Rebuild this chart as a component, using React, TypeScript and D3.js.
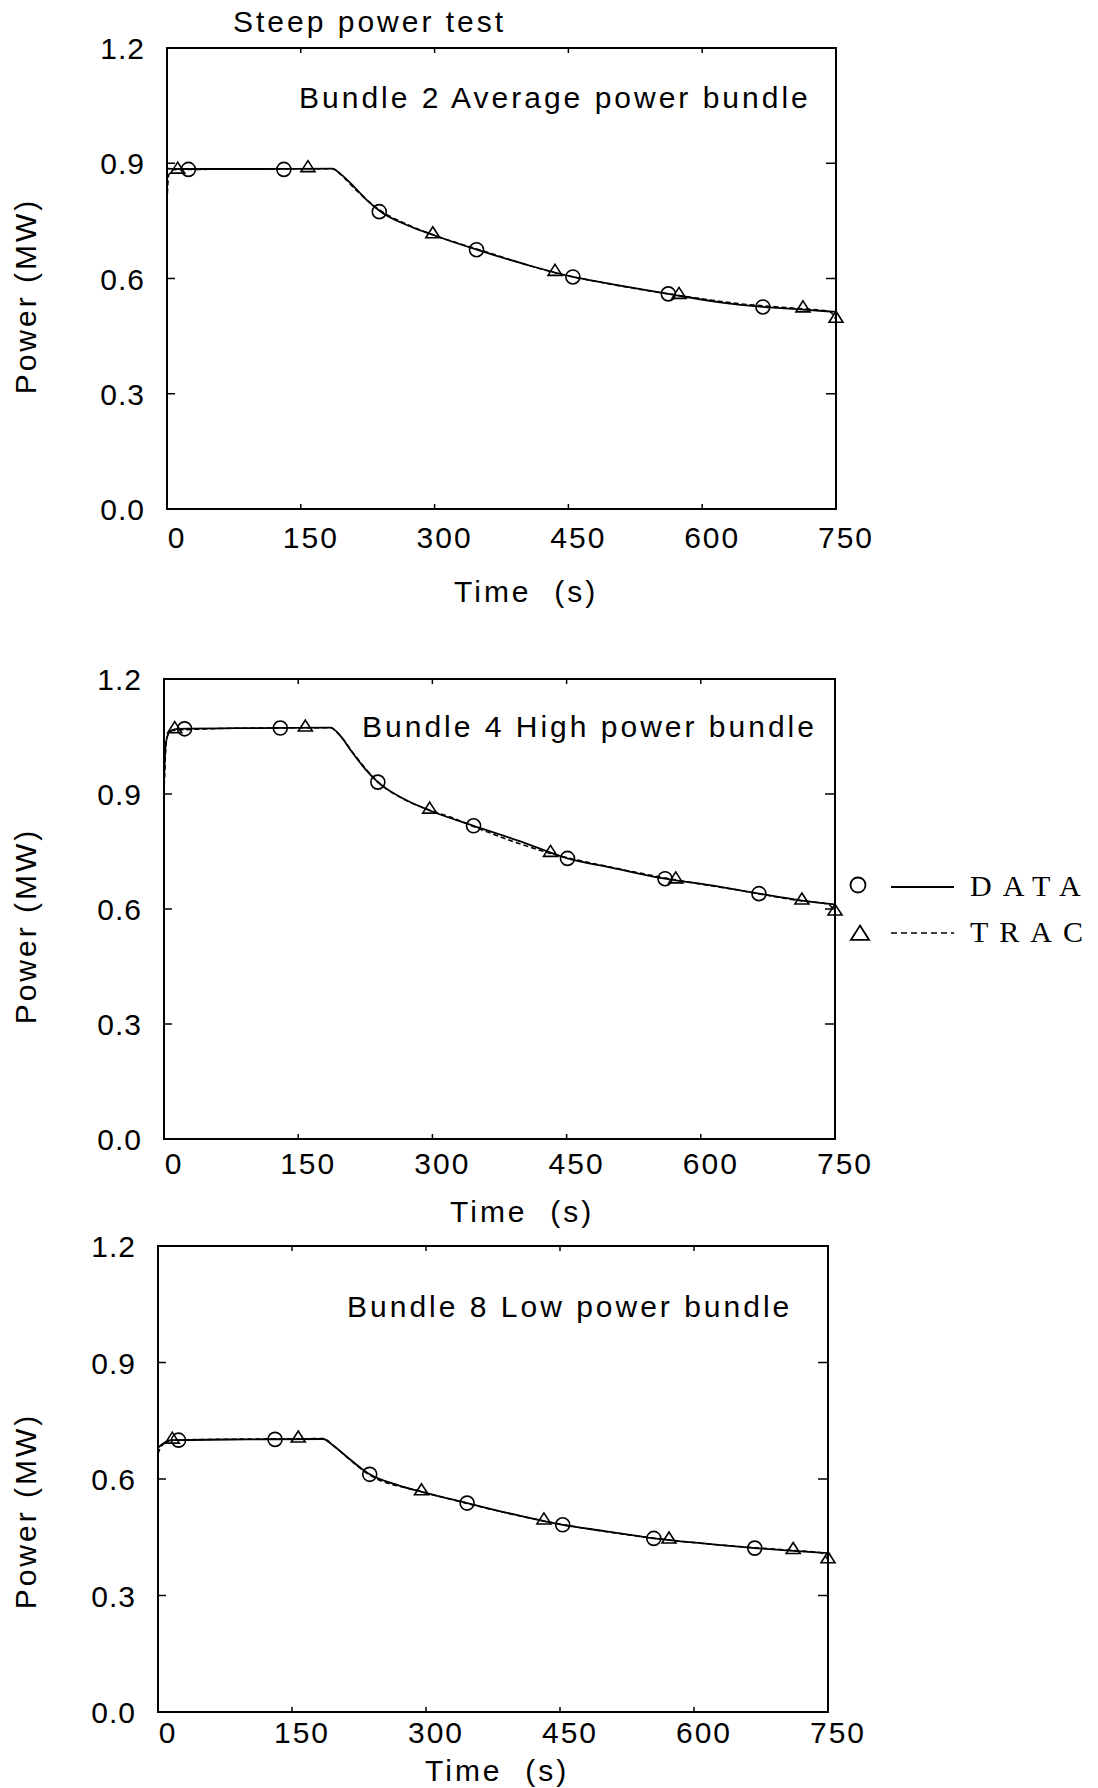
import * as d3 from 'd3'

type Pt = [number, number]

const chartTitle = 'Steep power test'
const bundleTitles = [
  'Bundle 2 Average power bundle',
  'Bundle 4 High power bundle',
  'Bundle 8 Low power bundle',
]
const xTicks = [0, 150, 300, 450, 600, 750]
const yTicks = [0, 0.3, 0.6, 0.9, 1.2]
const legendLabels = ['DATA', 'TRAC']

// bundle 2 (average power)
const b2Data: Pt[] = [
  [0, 0.886], [20, 0.885], [100, 0.885], [185, 0.886], [195, 0.871], [210, 0.838],
  [225, 0.802], [240, 0.773], [270, 0.738], [300, 0.712], [350, 0.673], [400, 0.638],
  [455, 0.604], [500, 0.585], [562, 0.56], [620, 0.538], [668, 0.526], [713, 0.519], [750, 0.513],
]
const b2Trac: Pt[] = [
  [0, 0.8], [2, 0.87], [8, 0.883], [100, 0.885], [186, 0.886], [196, 0.868], [212, 0.83],
  [240, 0.776], [270, 0.74], [298, 0.714], [350, 0.675], [435, 0.615], [500, 0.584],
  [574, 0.556], [640, 0.535], [713, 0.521], [742, 0.515], [750, 0.494],
]
const b2Circles: Pt[] = [[24, 0.884], [131, 0.884], [238, 0.774], [347, 0.675], [455, 0.604], [562, 0.56], [668, 0.526]]
const b2Triangles: Pt[] = [[12, 0.882], [158, 0.886], [298, 0.714], [435, 0.616], [574, 0.556], [713, 0.521], [750, 0.494]]

// bundle 4 (high power)
const b4Data: Pt[] = [
  [0, 0.93], [2, 1.03], [6, 1.062], [15, 1.07], [100, 1.072], [186, 1.073], [196, 1.055],
  [210, 1.01], [225, 0.965], [239, 0.931], [270, 0.885], [297, 0.857], [346, 0.817],
  [400, 0.775], [451, 0.732], [500, 0.708], [560, 0.679], [610, 0.662], [665, 0.64],
  [713, 0.622], [750, 0.612],
]
const b4Trac: Pt[] = [
  [0, 0.9], [3, 1.045], [9, 1.066], [100, 1.072], [186, 1.073], [197, 1.052], [212, 1.005],
  [240, 0.93], [270, 0.884], [297, 0.858], [320, 0.84], [346, 0.815], [432, 0.745],
  [500, 0.709], [572, 0.676], [640, 0.65], [713, 0.621], [742, 0.613], [750, 0.592],
]
const b4Circles: Pt[] = [[23, 1.07], [130, 1.072], [239, 0.931], [346, 0.817], [451, 0.732], [560, 0.679], [665, 0.64]]
const b4Triangles: Pt[] = [[12, 1.068], [158, 1.072], [297, 0.858], [432, 0.745], [572, 0.676], [713, 0.621], [750, 0.592]]

// bundle 8 (low power)
const b8Data: Pt[] = [
  [0, 0.68], [5, 0.69], [15, 0.7], [100, 0.702], [185, 0.703], [195, 0.688], [210, 0.66],
  [237, 0.612], [270, 0.583], [295, 0.567], [346, 0.538], [400, 0.508], [453, 0.482],
  [500, 0.466], [555, 0.447], [610, 0.434], [668, 0.422], [711, 0.415], [750, 0.409],
]
const b8Trac: Pt[] = [
  [0, 0.665], [4, 0.685], [16, 0.7], [100, 0.703], [185, 0.704], [197, 0.685], [212, 0.655],
  [237, 0.61], [295, 0.568], [346, 0.537], [432, 0.492], [500, 0.465], [572, 0.443],
  [640, 0.428], [711, 0.416], [742, 0.41], [750, 0.392],
]
const b8Circles: Pt[] = [[23, 0.7], [131, 0.702], [237, 0.612], [346, 0.538], [453, 0.482], [555, 0.447], [668, 0.422]]
const b8Triangles: Pt[] = [[16, 0.7], [157, 0.703], [295, 0.567], [432, 0.492], [572, 0.443], [711, 0.416], [750, 0.392]]

const width = 1098
const height = 1788
const sans = '"Liberation Sans", Arial, sans-serif'
const serif = '"Liberation Serif", "DejaVu Serif", serif'

// each panel sits a little differently on the scanned page
const panels = [
  { left: 167, right: 836, top: 48, bottom: 509, titleX: 299, titleY: 108, tickDy: 39, timeX: 454, timeY: 602, powerY: 296, data: b2Data, trac: b2Trac, circles: b2Circles, triangles: b2Triangles },
  { left: 164, right: 835, top: 679, bottom: 1139, titleX: 362, titleY: 737, tickDy: 35, timeX: 450, timeY: 1222, powerY: 926, data: b4Data, trac: b4Trac, circles: b4Circles, triangles: b4Triangles },
  { left: 158, right: 828, top: 1246, bottom: 1712, titleX: 347, titleY: 1317, tickDy: 31, timeX: 425, timeY: 1781, powerY: 1511, data: b8Data, trac: b8Trac, circles: b8Circles, triangles: b8Triangles },
]

const triPath = (x: number, y: number, s = 1) =>
  `M${x},${y - 8 * s}L${x + 7 * s},${y + 3 * s}L${x - 7 * s},${y + 3 * s}Z`

const Panel = ({ p, i }: { p: (typeof panels)[number]; i: number }) => {
  const x = d3.scaleLinear().domain([0, 750]).range([p.left, p.right])
  const y = d3.scaleLinear().domain([0, 1.2]).range([p.bottom, p.top])
  const line = d3
    .line<Pt>()
    .x((d) => x(d[0]))
    .y((d) => y(d[1]))
    .curve(d3.curveMonotoneX)

  const innerX = xTicks.slice(1, -1)
  const innerY = yTicks.slice(1, -1)

  return (
    <g>
      <rect x={p.left} y={p.top} width={p.right - p.left} height={p.bottom - p.top} fill="none" stroke="#000" strokeWidth={2} />
      {innerX.map((t) => (
        <g key={'xt' + t}>
          <line x1={x(t)} x2={x(t)} y1={p.bottom} y2={p.bottom - 5} stroke="#000" strokeWidth={1.5} />
          <line x1={x(t)} x2={x(t)} y1={p.top} y2={p.top + 5} stroke="#000" strokeWidth={1.5} />
        </g>
      ))}
      {innerY.map((v) => (
        <g key={'yt' + v}>
          <line x1={p.left} x2={p.left + 8} y1={y(v)} y2={y(v)} stroke="#000" strokeWidth={1.5} />
          <line x1={p.right} x2={p.right - 10} y1={y(v)} y2={y(v)} stroke="#000" strokeWidth={1.5} />
        </g>
      ))}
      {xTicks.map((t) => (
        <text key={'xl' + t} x={x(t) + 10} y={p.bottom + p.tickDy} textAnchor="middle" fontSize={30} letterSpacing={2} fontFamily={sans}>
          {t}
        </text>
      ))}
      {yTicks.map((v) => (
        <text key={'yl' + v} x={p.left - 22} y={y(v) + 11} textAnchor="end" fontSize={30} letterSpacing={1} fontFamily={sans}>
          {v.toFixed(1)}
        </text>
      ))}
      <text x={p.titleX} y={p.titleY} fontSize={30} letterSpacing={3} fontFamily={sans}>
        {bundleTitles[i]}
      </text>
      <text x={p.timeX} y={p.timeY} fontSize={30} letterSpacing={3} fontFamily={sans} xmlSpace="preserve" style={{ whiteSpace: 'pre' }}>
        {'Time  (s)'}
      </text>
      <text
        transform={`translate(36,${p.powerY}) rotate(-90)`}
        textAnchor="middle"
        fontSize={30}
        letterSpacing={3}
        fontFamily={sans}
      >
        Power (MW)
      </text>

      <path d={line(p.trac) ?? ''} fill="none" stroke="#000" strokeWidth={1.5} strokeDasharray="5,3" />
      <path d={line(p.data) ?? ''} fill="none" stroke="#000" strokeWidth={1.8} />
      {p.circles.map((d, k) => (
        <circle key={'c' + k} cx={x(d[0])} cy={y(d[1])} r={7} fill="none" stroke="#000" strokeWidth={1.6} />
      ))}
      {p.triangles.map((d, k) => (
        <path key={'t' + k} d={triPath(x(d[0]), y(d[1]))} fill="none" stroke="#000" strokeWidth={1.6} />
      ))}
    </g>
  )
}

export default function App() {
  return (
    <svg
      width={width}
      height={height}
      style={{ position: 'absolute', left: 0, top: 0, background: '#fff' }}
    >
      <rect width={width} height={height} fill="#fff" />
      <text x={233} y={32} fontSize={30} letterSpacing={3} fontFamily={sans}>
        {chartTitle}
      </text>
      {panels.map((p, i) => (
        <Panel key={i} p={p} i={i} />
      ))}

      {/* legend, beside the middle panel */}
      <circle cx={858} cy={885} r={7.5} fill="none" stroke="#000" strokeWidth={1.8} />
      <line x1={891} x2={954} y1={887} y2={887} stroke="#000" strokeWidth={2} />
      <text x={970} y={896} fontSize={30} letterSpacing={11} fontFamily={serif}>
        {legendLabels[0]}
      </text>
      <path d={triPath(860, 936, 1.3)} fill="none" stroke="#000" strokeWidth={1.8} />
      <line x1={891} x2={954} y1={933} y2={933} stroke="#000" strokeWidth={1.5} strokeDasharray="6,4" />
      <text x={970} y={942} fontSize={30} letterSpacing={11} fontFamily={serif}>
        {legendLabels[1]}
      </text>
    </svg>
  )
}
